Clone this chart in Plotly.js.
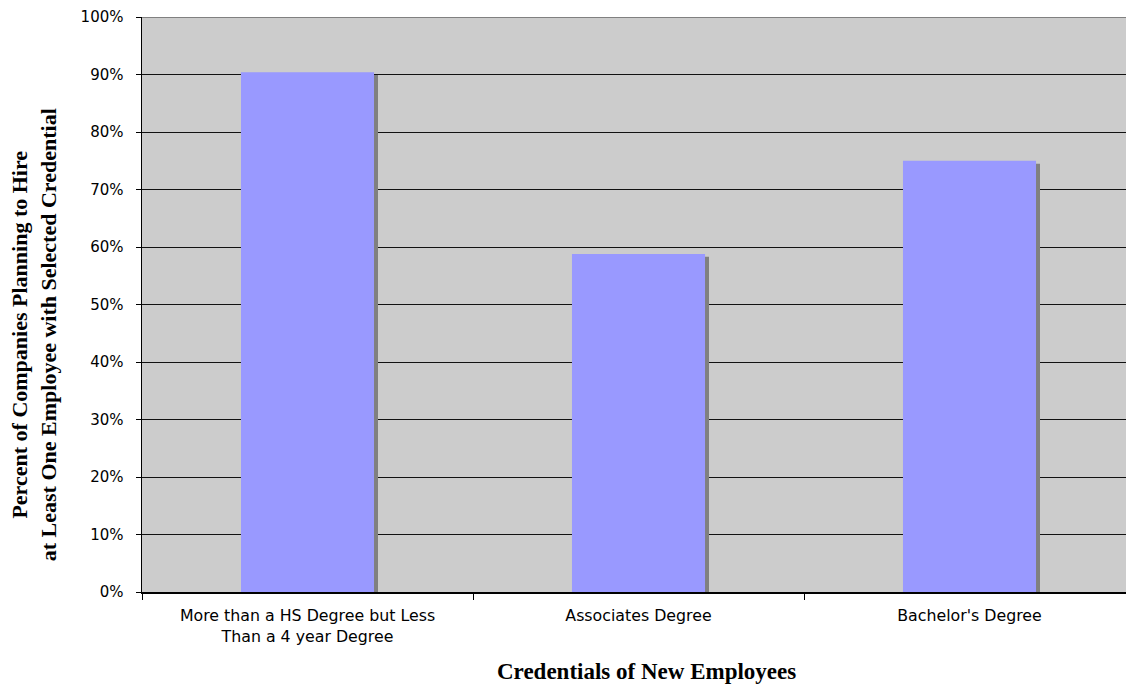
<!DOCTYPE html>
<html>
<head>
<meta charset="utf-8">
<script src="https://cdn.plot.ly/plotly-3.0.1.min.js"></script>
<style>
  html, body { margin: 0; padding: 0; background: #fff; overflow: hidden; }
  #chart { width: 1140px; height: 685px; }
</style>
</head>
<body>
<div id="chart"></div>
<script>
// Share of companies planning to hire at least one employee, by credential
const categories = [
  'More than a HS Degree but Less<br>Than a 4 year Degree',
  'Associates Degree',
  "Bachelor's Degree"
];
const shares = [0.904, 0.588, 0.75];
const yTickValues = [0, 0.1, 0.2, 0.3, 0.4, 0.5, 0.6, 0.7, 0.8, 0.9, 1.0];

const barWidth = 0.402;
const shadowShiftX = 0.012;   // drop shadow offset, category units
const shadowDropY = 0.005;    // drop shadow offset, value units

const shadow = {
  type: 'bar',
  x: categories,
  y: shares.map(v => v - shadowDropY),
  width: barWidth,
  offset: -barWidth / 2 + shadowShiftX,
  marker: { color: '#808080', line: { width: 0 } },
  hoverinfo: 'skip',
  showlegend: false
};

const bars = {
  type: 'bar',
  x: categories,
  y: shares,
  width: barWidth,
  offset: -barWidth / 2,
  marker: { color: '#9999ff', line: { width: 0 } },
  showlegend: false
};

const layout = {
  width: 1140,
  height: 685,
  margin: { l: 142, r: 5, t: 17, b: 93 },
  paper_bgcolor: '#ffffff',
  plot_bgcolor: '#cccccc',
  barmode: 'overlay',
  showlegend: false,
  font: { family: 'DejaVu Sans, Verdana, sans-serif', color: '#000' },
  xaxis: {
    type: 'category',
    tickson: 'boundaries',
    ticks: 'outside',
    ticklen: 6,
    tickwidth: 1,
    tickcolor: '#000',
    showline: true,
    linecolor: '#000',
    linewidth: 1.5,
    showgrid: false,
    ticklabelstandoff: 9,
    tickfont: { family: 'DejaVu Sans, Verdana, sans-serif', size: 15.8, color: '#000' },
    fixedrange: true
  },
  yaxis: {
    range: [0, 1],
    tickvals: yTickValues,
    tickformat: '.0%',
    ticks: 'outside',
    ticklen: 5,
    tickwidth: 1,
    tickcolor: '#000',
    showline: true,
    linecolor: '#000',
    linewidth: 1.5,
    showgrid: true,
    gridcolor: '#111111',
    gridwidth: 1,
    zeroline: false,
    ticklabelstandoff: 9,
    tickfont: { family: 'DejaVu Sans, Verdana, sans-serif', size: 15, color: '#000' },
    fixedrange: true
  },
  shapes: [
    { type: 'line', xref: 'paper', yref: 'y', x0: 0, x1: 1, y0: 1, y1: 1,
      line: { color: '#808080', width: 2 } }
  ],
  annotations: [
    {
      text: '<b>Credentials of New Employees</b>',
      xref: 'paper', yref: 'paper',
      x: 0.508, y: -0.139,
      xanchor: 'center', yanchor: 'middle',
      showarrow: false,
      font: { family: 'Liberation Serif, Times New Roman, serif', size: 23, color: '#000' }
    },
    {
      text: '<b>Percent of Companies Planning to Hire<br>at Least One Employee with Selected Credential</b>',
      xref: 'paper', yref: 'paper',
      x: -0.1085, y: 0.447,
      xanchor: 'center', yanchor: 'middle',
      textangle: -90,
      showarrow: false,
      font: { family: 'Liberation Serif, Times New Roman, serif', size: 22, color: '#000' }
    }
  ]
};

Plotly.newPlot('chart', [shadow, bars], layout, { displayModeBar: false, staticPlot: true });
</script>
</body>
</html>
